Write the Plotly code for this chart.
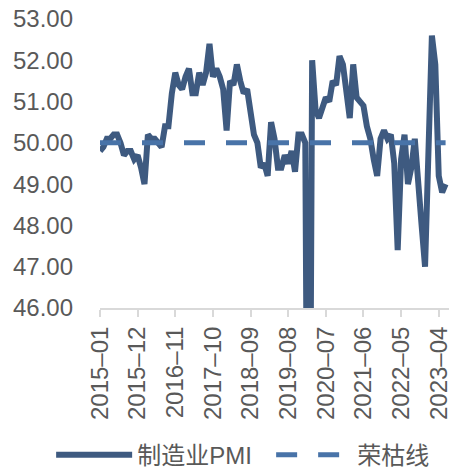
import plotly.graph_objects as go
import pandas as pd

months = [p.strftime("%Y") + "–" + p.strftime("%m") for p in pd.period_range("2015-01", "2023-06", freq="M")]

pmi = [
    49.8, 49.9, 50.1, 50.1, 50.2, 50.2, 50.0, 49.7, 49.8, 49.8, 49.6, 49.7,
    49.4, 49.0, 50.2, 50.1, 50.1, 50.0, 49.9, 50.4, 50.4, 51.2, 51.7, 51.4,
    51.3, 51.6, 51.8, 51.2, 51.2, 51.7, 51.4, 51.7, 52.4, 51.6, 51.8, 51.6,
    51.3, 50.3, 51.5, 51.4, 51.9, 51.5, 51.2, 51.3, 50.8, 50.2, 50.0, 49.4,
    49.5, 49.2, 50.5, 50.1, 49.4, 49.4, 49.7, 49.5, 49.8, 49.3, 50.2, 50.2,
    50.0, 35.7, 52.0, 50.8, 50.6, 50.9, 51.1, 51.0, 51.5, 51.4, 52.1, 51.9,
    51.3, 50.6, 51.9, 51.1, 51.0, 50.9, 50.4, 50.1, 49.6, 49.2, 50.1, 50.3,
    50.1, 50.2, 49.5, 47.4, 49.6, 50.2, 49.0, 49.4, 50.1, 49.2, 48.0, 47.0,
    50.1, 52.6, 51.9, 49.2, 48.8, 49.0,
]
threshold = [50.0] * len(pmi)

tick_months = months[::11]
y_ticks = [46, 47, 48, 49, 50, 51, 52, 53]

FONT = "Liberation Sans, Arial, Noto Sans CJK SC, sans-serif"
GREY = "#595959"

fig = go.Figure()
fig.add_trace(go.Scatter(
    x=months, y=pmi, mode="lines", name="制造业PMI",
    line=dict(color="#3e5a80", width=6),
))
fig.add_trace(go.Scatter(
    x=months, y=threshold, mode="lines", name="荣枯线",
    line=dict(color="#4873a8", width=5, dash="21px,21px"),
))

fig.update_layout(
    width=449, height=470,
    margin=dict(l=100, r=0, t=19, b=162, autoexpand=False),
    paper_bgcolor="white", plot_bgcolor="white",
    font=dict(family=FONT, size=24, color=GREY),
    showlegend=True,
    legend=dict(
        orientation="h", x=-0.14, y=-0.509, xanchor="left", yanchor="middle",
        font=dict(size=24, color=GREY),
        itemwidth=76, entrywidth=129, entrywidthmode="pixels",
        bgcolor="rgba(0,0,0,0)",
    ),
)
fig.update_xaxes(
    type="category", range=[0, 102], automargin=False,
    tickvals=tick_months, ticktext=tick_months, tickangle=-90,
    showgrid=False, showline=True, linecolor="#d9d9d9", linewidth=2,
    ticks="outside", ticklen=7, tickcolor="#d9d9d9", tickwidth=2,
    tickfont=dict(size=24, color=GREY), zeroline=False,
)
fig.update_yaxes(
    range=[46, 53], tickvals=y_ticks, tickformat=".2f", automargin=False,
    showgrid=False, showline=False, zeroline=False, ticks="",
    ticklabelstandoff=26, tickfont=dict(size=24, color=GREY),
)

fig.write_html("out.html")
